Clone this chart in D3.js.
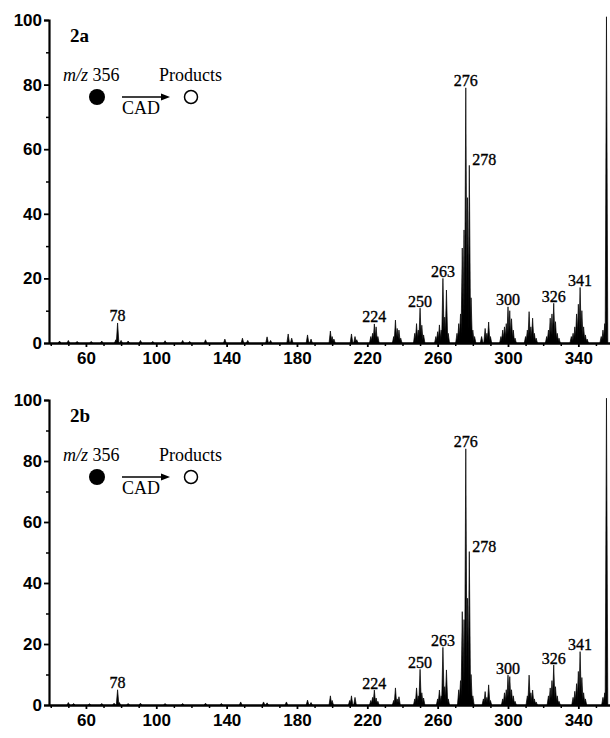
<!DOCTYPE html>
<html>
<head>
<meta charset="utf-8">
<script src="https://cdn.jsdelivr.net/npm/d3@7"></script>
<style>
  body { margin: 0; background: #fff; }
  svg { display: block; }
  .tick text { font-family: "Liberation Sans", Arial, sans-serif; font-weight: bold; font-size: 17px; fill: #000; }
  .axis path, .axis line { stroke: #000; }
  .serif { font-family: "Liberation Serif", "Times New Roman", serif; fill: #000; }
  .plabel { stroke: #000; stroke-width: 0.35px; }
</style>
</head>
<body>
<svg id="chart" width="610" height="738"></svg>
<script>
// tick labels
const xTicks = [60, 100, 140, 180, 220, 260, 300, 340];
const yTicks = [0, 20, 40, 60, 80, 100];
const peakLabels = [78, 224, 250, 263, 276, 278, 300, 326, 341];
const panelNames = ["2a", "2b"];

// spectrum 2a: [m/z, relative abundance]
const peaks2a = [
  [45, 0.6], [50, 0.8], [55, 0.5], [63, 0.5], [69, 0.6], [77, 1.0], [78, 6.2], [80, 0.8],
  [84, 0.6], [91, 0.8], [98, 0.5], [105, 0.7], [115, 0.8], [119, 0.5], [128, 1.0],
  [139, 1.2], [149, 1.5], [152, 0.8], [163, 1.9], [165, 0.8], [175, 2.8], [177, 1.5],
  [186, 2.5], [188, 1.2], [199, 3.7], [200, 2.0], [201, 1.2], [211, 2.8], [213, 2.0], [214, 1.0],
  [222, 2.0], [223, 3.0], [224, 5.9], [225, 5.0], [226, 2.0],
  [235, 2.0], [236, 7.1], [237, 4.5], [238, 4.0], [239, 1.5],
  [247, 3.0], [248, 6.0], [249, 4.0], [250, 10.8], [251, 5.5], [252, 2.5],
  [259, 2.0], [260, 3.5], [261, 5.6], [262, 4.0], [263, 20], [264, 8.0], [265, 16.4], [266, 3.0],
  [271, 3.0], [272, 6.0], [273, 9.0], [274, 29.4], [275, 35], [276, 79], [277, 45], [278, 55],
  [279, 14], [280, 4.0], [281, 2.0],
  [285, 2.0], [287, 4.5], [288, 3.0], [289, 6.5], [290, 2.0],
  [296, 2.0], [297, 4.0], [298, 5.0], [299, 6.0], [300, 11.2], [301, 10], [302, 7.5], [303, 4.0], [304, 1.5],
  [310, 2.0], [311, 4.0], [312, 9.7], [313, 5.0], [314, 7.7], [315, 3.0], [316, 1.5],
  [322, 2.0], [323, 4.0], [324, 7.7], [325, 9.0], [326, 12.3], [327, 6.6], [328, 3.0], [329, 1.5],
  [336, 2.0], [337, 3.0], [338, 5.0], [339, 9.0], [340, 12], [341, 17.2], [342, 10], [343, 5.0],
  [344, 2.5], [345, 1.2],
  [353, 2.0], [354, 4.0], [355, 6.0], [356, 101]
];

// spectrum 2b: [m/z, relative abundance]
const peaks2b = [
  [50, 0.8], [53, 0.5], [62, 0.4], [69, 0.5], [76, 0.6], [78, 5.0], [79, 0.8], [84, 0.5],
  [91, 0.6], [105, 0.5], [115, 0.5], [128, 0.6], [137, 0.5], [148, 1.0], [161, 1.0], [163, 0.7],
  [174, 1.0], [186, 1.6], [188, 0.8], [199, 3.0], [200, 1.5], [210, 1.5], [211, 3.0], [213, 2.5],
  [222, 1.5], [223, 2.5], [224, 4.9], [225, 2.3], [226, 1.2],
  [235, 1.5], [236, 5.6], [237, 2.0], [238, 2.7],
  [247, 2.0], [248, 5.6], [249, 3.0], [250, 11.7], [251, 4.0], [252, 2.3],
  [260, 2.0], [261, 4.9], [262, 3.0], [263, 18.9], [264, 6.0], [265, 11.5], [266, 2.0],
  [272, 5.0], [273, 8.0], [274, 30.6], [275, 28], [276, 84], [277, 35], [278, 50.3], [279, 10], [280, 3.0],
  [286, 2.0], [287, 4.4], [288, 2.5], [289, 6.6], [290, 1.5],
  [297, 2.0], [298, 4.0], [299, 5.0], [300, 9.8], [301, 9.3], [302, 5.0], [303, 3.0], [304, 1.2],
  [311, 3.0], [312, 9.8], [313, 4.0], [314, 4.9], [315, 2.0], [316, 1.0],
  [323, 3.0], [324, 5.6], [325, 8.0], [326, 13.1], [327, 6.0], [328, 3.0], [329, 1.2],
  [337, 2.5], [338, 4.5], [339, 7.0], [340, 11], [341, 17.5], [342, 9.0], [343, 4.0], [344, 2.0],
  [354, 2.5], [355, 4.0], [356, 100.6]
];

const svg = d3.select("#chart");
const x = d3.scaleLinear().domain([39, 358]).range([49, 610]);

function drawPanel(name, peaks, top, bottom) {
  const y = d3.scaleLinear().domain([0, 100]).range([bottom, top]);
  const g = svg.append("g");
  const hw = 0.75; // half width of a peak, in m/z

  // spectrum peaks
  g.append("g").selectAll("path")
    .data(peaks)
    .join("path")
    .attr("d", d => `M${x(d[0] - hw)},${y(0)}L${x(d[0])},${y(d[1])}L${x(d[0] + hw)},${y(0)}Z`)
    .attr("fill", "#000")
    .attr("stroke", "#000")
    .attr("stroke-width", 0.7);

  // minor ticks
  const minorY = d3.axisLeft(y).tickValues(d3.range(10, 100, 20)).tickSize(3).tickFormat("");
  g.append("g").attr("class", "axis").attr("transform", `translate(${x.range()[0]},0)`)
    .call(minorY).call(s => s.select(".domain").remove())
    .selectAll("line").attr("stroke-width", 1.5);
  const minorX = d3.axisBottom(x).tickValues(d3.range(40, 360, 10).filter(v => !xTicks.includes(v)))
    .tickSize(3).tickFormat("");
  g.append("g").attr("class", "axis").attr("transform", `translate(0,${y(0)})`)
    .call(minorX).call(s => s.select(".domain").remove())
    .selectAll("line").attr("stroke-width", 1.5);

  // axes
  const yAxis = d3.axisLeft(y).tickValues(yTicks).tickSize(5).tickPadding(2);
  const ya = g.append("g").attr("class", "axis").attr("transform", `translate(${x.range()[0]},0)`).call(yAxis);
  ya.select(".domain").attr("stroke-width", 2.2);
  ya.selectAll("line").attr("stroke-width", 1.8);

  const xAxis = d3.axisBottom(x).tickValues(xTicks).tickSize(4).tickPadding(5).tickSizeOuter(0);
  const xa = g.append("g").attr("class", "axis").attr("transform", `translate(0,${y(0)})`).call(xAxis);
  xa.select(".domain").attr("stroke-width", 2.4);
  xa.selectAll("line").attr("stroke-width", 1.8);

  // peak labels
  peakLabels.forEach(m => {
    const p = peaks.find(d => d[0] === m);
    const right = m === 278;
    g.append("text").attr("class", "serif plabel")
      .attr("x", right ? x(m) + 3 : x(m))
      .attr("y", y(p[1]) - (right ? 0 : 1.5))
      .attr("text-anchor", right ? "start" : "middle")
      .style("font-size", "16px")
      .text(m);
  });

  // panel name
  g.append("text").attr("class", "serif")
    .attr("x", 70).attr("y", top + 22)
    .style("font-size", "19px").style("font-weight", "bold")
    .text(name);

  // scheme: m/z 356 --CAD--> products
  const t = g.append("text").attr("class", "serif")
    .attr("x", 63).attr("y", top + 61).style("font-size", "18px");
  t.append("tspan").style("font-style", "italic").text("m/z");
  t.append("tspan").text(" 356");
  g.append("text").attr("class", "serif")
    .attr("x", 159).attr("y", top + 61).style("font-size", "18px")
    .text("Products");
  const cy = top + 77;
  g.append("circle").attr("cx", 97).attr("cy", cy).attr("r", 8).attr("fill", "#000");
  g.append("circle").attr("cx", 191).attr("cy", cy).attr("r", 6.5)
    .attr("fill", "#fff").attr("stroke", "#000").attr("stroke-width", 1.5);
  g.append("line").attr("x1", 122).attr("x2", 163).attr("y1", cy).attr("y2", cy)
    .attr("stroke", "#000").attr("stroke-width", 1.6);
  g.append("path").attr("d", `M${170},${cy}L${161},${cy - 3.5}L${161},${cy + 3.5}Z`).attr("fill", "#000");
  g.append("text").attr("class", "serif")
    .attr("x", 122).attr("y", cy + 17).style("font-size", "18px")
    .text("CAD");
}

drawPanel(panelNames[0], peaks2a, 20, 343);
drawPanel(panelNames[1], peaks2b, 400, 705);
</script>
</body>
</html>
